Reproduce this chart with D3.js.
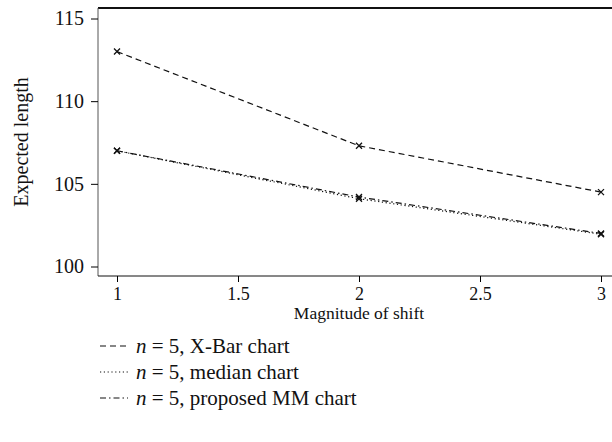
<!DOCTYPE html>
<html>
<head>
<meta charset="utf-8">
<script src="https://cdn.jsdelivr.net/npm/d3@7"></script>
<style>
    body { margin: 0; background: #fff; }
    text { font-family: "Liberation Serif", "DejaVu Serif", serif; fill: #111; }
</style>
</head>
<body>
<svg id="chart" width="612" height="442"></svg>
<script>
// values
const shifts = [1, 2, 3];
const xbarLength = [113.0, 107.3, 104.5];
const medianLength = [107.0, 104.1, 101.95];
const mmLength = [107.0, 104.2, 102.0];
const xTicks = [1, 1.5, 2, 2.5, 3];
const yTicks = [100, 105, 110, 115];
const seriesNames = ["X-Bar chart", "median chart", "proposed MM chart"];

const svg = d3.select("#chart");

const plot = { left: 98, right: 640, top: 8, bottom: 276 };

const x = d3.scaleLinear().domain([1, 3]).range([117, 601]);
const y = d3.scaleLinear().domain([100, 115]).range([266.5, 18.5]);

const series = [
    { name: seriesNames[0], values: xbarLength, dash: "6,4" },
    { name: seriesNames[1], values: medianLength, dash: "1.2,2.6" },
    { name: seriesNames[2], values: mmLength, dash: "6,3,1.5,3" }
];

// frame: top rule, left and bottom axes
svg.append("line")
    .attr("x1", plot.left).attr("x2", plot.right)
    .attr("y1", plot.top).attr("y2", plot.top)
    .attr("stroke", "#111").attr("stroke-width", 2);

const yAxis = d3.axisLeft(y)
    .tickValues(yTicks)
    .tickSize(7)
    .tickPadding(7)
    .tickFormat(d3.format("d"));

svg.append("g")
    .attr("transform", "translate(" + plot.left + ",0)")
    .call(yAxis)
    .call(function(g) {
        g.select(".domain").attr("d", "M0," + plot.top + "V" + plot.bottom).attr("stroke", "#555");
        g.selectAll("text").attr("font-size", 20).attr("font-family", null);
    });

const xAxis = d3.axisBottom(x)
    .tickValues(xTicks)
    .tickSize(6)
    .tickPadding(5)
    .tickFormat(function(d) { return d; });

svg.append("g")
    .attr("transform", "translate(0," + plot.bottom + ")")
    .call(xAxis)
    .call(function(g) {
        g.select(".domain").attr("d", "M" + plot.left + ",0H" + plot.right).attr("stroke", "#111");
        g.selectAll("text").attr("font-size", 18).attr("font-family", null);
    });

svg.append("text")
    .attr("transform", "translate(28,142) rotate(-90)")
    .attr("text-anchor", "middle")
    .attr("font-size", 20)
    .text("Expected length");

svg.append("text")
    .attr("x", 359)
    .attr("y", 319)
    .attr("text-anchor", "middle")
    .attr("font-size", 17.5)
    .text("Magnitude of shift");

const line = d3.line()
    .x(function(d, i) { return x(shifts[i]); })
    .y(function(d) { return y(d); });

series.forEach(function(s) {
    svg.append("path")
        .attr("d", line(s.values))
        .attr("fill", "none")
        .attr("stroke", "#111")
        .attr("stroke-width", 1.2)
        .attr("stroke-dasharray", s.dash);

    svg.selectAll(null)
        .data(s.values)
        .enter()
        .append("path")
        .attr("d", function(d, i) {
            const cx = x(shifts[i]);
            const cy = y(d);
            const r = 3;
            return "M" + (cx - r) + "," + (cy - r) + "L" + (cx + r) + "," + (cy + r) +
                "M" + (cx - r) + "," + (cy + r) + "L" + (cx + r) + "," + (cy - r);
        })
        .attr("stroke", "#111")
        .attr("stroke-width", 1.3);
});

// legend
const legend = svg.append("g").attr("transform", "translate(100,346)");

series.forEach(function(s, i) {
    const row = legend.append("g").attr("transform", "translate(0," + (i * 26) + ")");

    row.append("line")
        .attr("x1", 0).attr("x2", 28)
        .attr("y1", 0).attr("y2", 0)
        .attr("stroke", "#111")
        .attr("stroke-width", 1.2)
        .attr("stroke-dasharray", s.dash);

    const label = row.append("text")
        .attr("x", 36)
        .attr("y", 7)
        .attr("font-size", 21);

    label.append("tspan").attr("font-style", "italic").text("n");
    label.append("tspan").text(" = 5, " + s.name);
});
</script>
</body>
</html>
